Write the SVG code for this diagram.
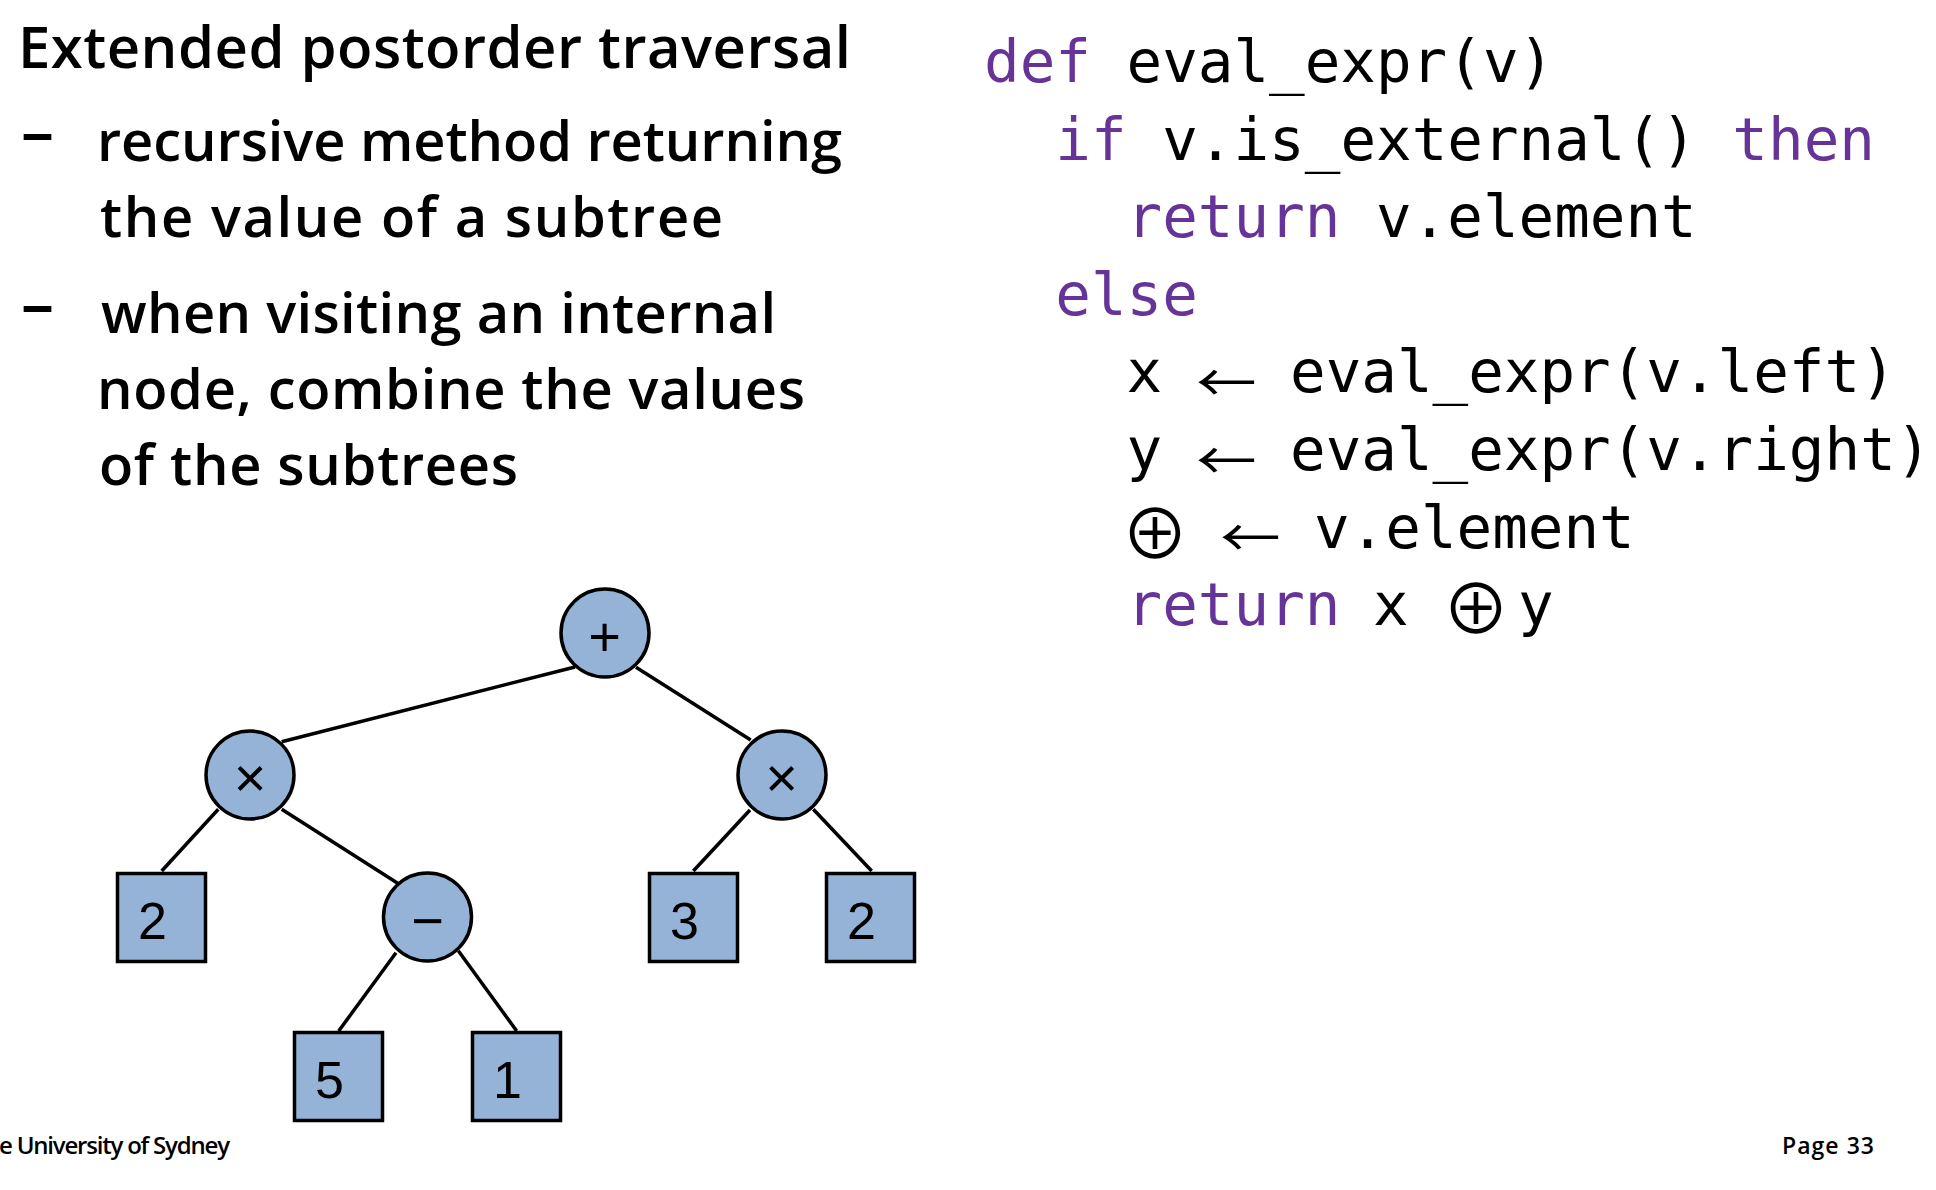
<svg xmlns="http://www.w3.org/2000/svg" width="1936" height="1190" viewBox="0 0 1936 1190">
<style>
.t{font-family:"Open Sans","DejaVu Sans",sans-serif;font-weight:600;fill:#000}
.title{font-size:58px}
.body{font-size:56px}
.dash{font-size:66px}
.code{font-family:"DejaVu Sans Mono",monospace;font-size:59.2px;fill:#000}
.kw{fill:#663399}
.arrow{font-family:"Noto Sans CJK JP","DejaVu Sans",sans-serif;font-size:52px;text-anchor:middle;fill:#000}
.oplus{font-family:"Noto Sans CJK JP","DejaVu Sans",sans-serif;font-size:68px;text-anchor:middle;fill:#000}
.edge{stroke:#000;stroke-width:3.5;fill:none}
.shape{fill:#95b3d7;stroke:#000;stroke-width:3.5}
.lbl{font-family:"Liberation Sans",Arial,sans-serif;fill:#000;text-anchor:middle}
.num{font-size:52px}
.op{font-size:56px}
.foot{font-family:"Open Sans",sans-serif;font-weight:600;font-size:24px;fill:#000}
.page{font-size:23px}
</style>
<rect width="1936" height="1190" fill="#fff"/>

<g id="text-left">
<text class="t title" x="18" y="68" textLength="833" lengthAdjust="spacing">Extended postorder traversal</text>
<text class="t dash" x="21" y="155">–</text>
<text class="t body" x="97" y="161" textLength="745" lengthAdjust="spacing">recursive method returning</text>
<text class="t body" x="100" y="237" textLength="623" lengthAdjust="spacing">the value of a subtree</text>
<text class="t dash" x="21" y="327">–</text>
<text class="t body" x="101" y="333" textLength="675" lengthAdjust="spacing">when visiting an internal</text>
<text class="t body" x="97" y="409" textLength="708" lengthAdjust="spacing">node, combine the values</text>
<text class="t body" x="99" y="485" textLength="419" lengthAdjust="spacing">of the subtrees</text>
</g>

<g id="code">
<text class="code" x="984" y="82"><tspan class="kw">def</tspan> eval_expr(v)</text>
<text class="code" x="1055.3" y="159.6"><tspan class="kw">if</tspan> v.is_external() <tspan class="kw">then</tspan></text>
<text class="code" x="1126.6" y="237.2"><tspan class="kw">return</tspan> v.element</text>
<text class="code" x="1055.3" y="314.8"><tspan class="kw">else</tspan></text>
<text class="code" x="1126.6" y="392.4">x</text>
<text class="arrow" transform="translate(1226.3 401.9) scale(1.16 1)">←</text>
<text class="code" x="1290" y="392.4">eval_expr(v.left)</text>
<text class="code" x="1126.6" y="470">y</text>
<text class="arrow" transform="translate(1226.3 479.5) scale(1.16 1)">←</text>
<text class="code" x="1290" y="470">eval_expr(v.right)</text>
<text class="oplus" x="1155" y="558.7">⊕</text>
<text class="arrow" transform="translate(1250.3 556.8) scale(1.16 1)">←</text>
<text class="code" x="1314" y="547.6">v.element</text>
<text class="code kw" x="1126.6" y="625.2">return</text>
<text class="code" x="1373" y="625.2">x</text>
<text class="oplus" x="1476" y="634.2">⊕</text>
<text class="code" x="1518" y="625.2">y</text>
</g>

<g id="connectors">
<line class="edge" x1="575" y1="667" x2="281.7" y2="741.7"/>
<line class="edge" x1="636" y1="667.3" x2="750.7" y2="740"/>
<line class="edge" x1="218.3" y1="809.3" x2="161.7" y2="871"/>
<line class="edge" x1="281.7" y1="809.3" x2="397.7" y2="883.3"/>
<line class="edge" x1="396" y1="952.7" x2="338.7" y2="1031"/>
<line class="edge" x1="458.3" y1="950.7" x2="516.7" y2="1031"/>
<line class="edge" x1="750" y1="810" x2="693.3" y2="871"/>
<line class="edge" x1="813.3" y1="809.3" x2="871.7" y2="871"/>
</g>

<g id="node-plus"><circle class="shape" cx="605" cy="633" r="44"/><text class="lbl op" x="604.5" y="656">+</text></g>
<g id="node-times-left"><circle class="shape" cx="250" cy="775" r="44"/><text class="lbl op" x="250" y="797">×</text></g>
<g id="node-times-right"><circle class="shape" cx="782" cy="775" r="44"/><text class="lbl op" x="781.7" y="797">×</text></g>
<g id="node-minus"><circle class="shape" cx="427.5" cy="917" r="44"/><text class="lbl op" x="427.5" y="940">−</text></g>
<g id="leaf-2-left"><rect class="shape" x="117.5" y="873.5" width="88" height="88"/><text class="lbl num" x="152.5" y="939">2</text></g>
<g id="leaf-5"><rect class="shape" x="294.5" y="1032.5" width="88" height="88"/><text class="lbl num" x="329.5" y="1098">5</text></g>
<g id="leaf-1"><rect class="shape" x="472.5" y="1032.5" width="88" height="88"/><text class="lbl num" x="507.5" y="1098">1</text></g>
<g id="leaf-3"><rect class="shape" x="649.5" y="873.5" width="88" height="88"/><text class="lbl num" x="684.5" y="939">3</text></g>
<g id="leaf-2-right"><rect class="shape" x="826.5" y="873.5" width="88" height="88"/><text class="lbl num" x="861.5" y="939">2</text></g>

<g id="footer">
<text class="foot" x="-1" y="1154" textLength="231" lengthAdjust="spacing">e University of Sydney</text>
<text class="foot page" x="1782" y="1154" textLength="92" lengthAdjust="spacing">Page 33</text>
</g>
</svg>
